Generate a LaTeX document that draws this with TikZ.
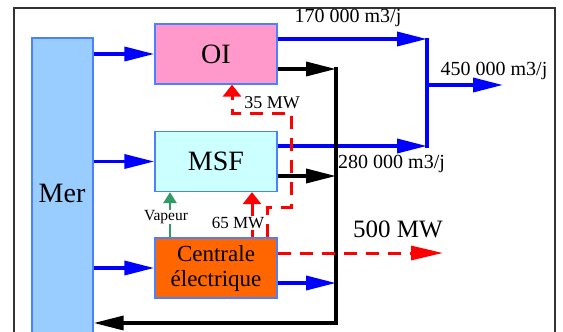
\documentclass[tikz,border=0pt]{standalone}
\usepackage{fontspec}
\setmainfont{Liberation Serif}
\usetikzlibrary{arrows.meta}
\definecolor{merfill}{HTML}{99CCFF}
\definecolor{oifill}{HTML}{FF99CC}
\definecolor{msffill}{HTML}{CCFFFF}
\definecolor{cenfill}{HTML}{FF6600}
\definecolor{boxborder}{HTML}{4D80FF}
\definecolor{flowblue}{HTML}{0000FF}
\definecolor{vapgreen}{HTML}{339966}
\definecolor{framegray}{HTML}{333333}
\tikzset{
  box/.style={draw=boxborder, line width=1.3pt, minimum width=122pt, minimum height=60pt, inner sep=0pt, font=\fontsize{28}{30}\selectfont},
  bigtip/.tip={Triangle[length=30pt,width=14pt]},
  vtip/.tip={Triangle[length=12pt,width=18pt]},
  gtip/.tip={Triangle[length=11pt,width=13pt]},
  blueline/.style={draw=flowblue, line width=3.5pt, -bigtip},
  blackline/.style={draw=black, line width=3.5pt, -bigtip},
  reddash/.style={draw=red, line width=3pt, dash pattern=on 13pt off 9pt},
  lblA/.style={font=\fontsize{20}{22}\selectfont, inner sep=1pt},
  lblB/.style={font=\fontsize{17}{19}\selectfont, inner sep=1pt, fill=white},
}
\begin{document}
\begin{tikzpicture}[x=1pt,y=-1pt]
\useasboundingbox (0,0) rectangle (563,332);
\clip (0,0) rectangle (563,332);
\draw[framegray, line width=2.5pt] (14,8) rectangle (555,360);
% boxes
\node[box, fill=merfill, minimum width=61pt, minimum height=320pt] (mer) at (62.5,198) {};
\node[font=\fontsize{28}{30}\selectfont, inner sep=0pt] (mertext) at (62,193) {Mer};
\node[box, fill=oifill] (oi) at (216,54) {OI};
\node[box, fill=msffill] (msf) at (216,161.5) {MSF};
\node[box, fill=cenfill, align=center, font=\fontsize{23}{25}\selectfont] (cen) at (216,268) {Centrale\\électrique};
% coordinates
\coordinate (jA) at (427,39);
\coordinate (jB) at (427,146);
\coordinate (jM) at (427,85);
\coordinate (out) at (503,85);
\coordinate (bT) at (336,69);
\coordinate (bM) at (336,176);
\coordinate (bC) at (336,283);
\coordinate (bB) at (336,323);
\coordinate (r500) at (443,253);
\coordinate (r1) at (267,207);
\coordinate (r2) at (291,207);
\coordinate (r3) at (291,113);
\coordinate (r4) at (232,113);
\coordinate (c65) at (252,0);
\coordinate (gv) at (170,0);
% sea intakes
\draw[blueline] (mer.east |- oi.west) -- (oi.west);
\draw[blueline] (mer.east |- msf.west) -- (msf.west);
\draw[blueline] (mer.east |- cen.west) -- (cen.west);
% products
\draw[blueline] (oi.east |- jA) -- (jA);
\draw[blueline] (msf.east |- jB) -- (jB);
\draw[draw=flowblue, line width=3.5pt] ([yshift=1.5pt]jA) -- ([yshift=-1.5pt]jB);
\draw[blueline] (jM) -- (out);
% rejects
\draw[blackline] (oi.east |- bT) -- (bT);
\draw[blackline] (msf.east |- bM) -- (bM);
\draw[blueline] (cen.east |- bC) -- (bC);
\draw[blackline] ([yshift=1.7pt]bT) -- (bB) -- (mer.east |- bB);
% vapour and power
\draw[vapgreen, line width=2.5pt, -gtip] (cen.north -| gv) -- (msf.south -| gv);
\draw[red, line width=3pt, -vtip] (cen.north -| c65) -- (msf.south -| c65);
\draw[reddash, -vtip] (cen.north -| r1) -- (r1) -- (r2) -- (r3) -- (r4) -- (oi.south -| r4);
\draw[reddash, -{Triangle[length=32pt,width=14pt]}] (cen.east |- r500) -- (r500);
% labels
\node[lblA] (l170) at (348,18) {170 000 m3/j};
\node[lblA] (l450) at (494,71) {450 000 m3/j};
\node[lblA, anchor=west] (l280) at (337,164) {280 000 m3/j};
\node[font=\fontsize{25}{27}\selectfont, inner sep=1pt] (l500) at (398,229) {500 MW};
\node[lblB, fill=none, font=\fontsize{18}{20}\selectfont] (l35) at (272,103) {35 MW};
\node[lblB] (l65) at (238,223) {65 MW};
\node[lblB, font=\fontsize{15.5}{17}\selectfont, inner sep=0.5pt] (lvap) at (166,217) {Vapeur};
\end{tikzpicture}
\end{document}
